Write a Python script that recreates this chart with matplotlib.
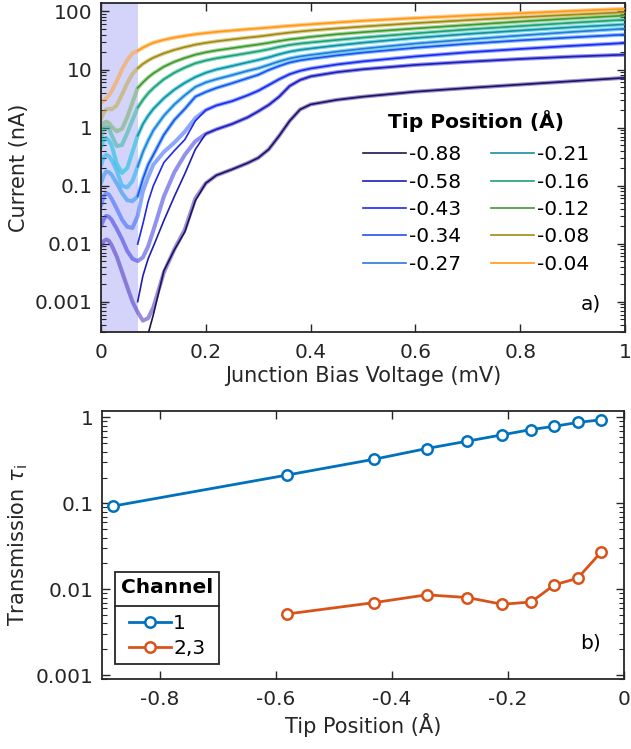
import numpy as np
import matplotlib
matplotlib.use("Agg")
import matplotlib.pyplot as plt
from matplotlib.lines import Line2D
from matplotlib.ticker import LogLocator, NullFormatter, FixedLocator

plt.rcParams['font.family'] = ['DejaVu Sans']
plt.rcParams['axes.unicode_minus'] = False
plt.rcParams['mathtext.fontset'] = 'dejavusans'

# ---------------- data: panel a ----------------
bias_mV = [0, 0.005, 0.01, 0.015, 0.02, 0.03, 0.04, 0.05, 0.06, 0.07, 0.08, 0.09, 0.10,
           0.12, 0.14, 0.16, 0.18, 0.20, 0.22, 0.25, 0.28, 0.30, 0.32, 0.34, 0.36, 0.38,
           0.40, 0.45, 0.50, 0.60, 0.70, 0.80, 0.90, 1.00]

tip_labels = ['-0.88', '-0.58', '-0.43', '-0.34', '-0.27', '-0.21', '-0.16', '-0.12', '-0.08', '-0.04']

I_m088 = [0.0091, 0.011, 0.0118, 0.0112, 0.0095, 0.006, 0.0033, 0.0018, 0.001, 0.00066, 0.00047,
          0.00052, 0.0008, 0.0032, 0.008, 0.0174, 0.06, 0.11, 0.15, 0.19, 0.245, 0.30, 0.42, 0.72,
          1.3, 2.05, 2.5, 3.0, 3.4, 4.15, 4.8, 5.5, 6.3, 7.2]
I_m058 = [0.02, 0.026, 0.03, 0.029, 0.026, 0.018, 0.012, 0.0075, 0.0055, 0.005, 0.0058, 0.009,
          0.017, 0.065, 0.17, 0.34, 0.58, 0.78, 0.93, 1.15, 1.5, 1.9, 2.45, 3.4, 5.2, 6.6, 7.6,
          9.0, 10.1, 12.0, 13.6, 15.2, 16.7, 18.0]
I_m043 = [0.045, 0.065, 0.074, 0.07, 0.06, 0.04, 0.026, 0.0195, 0.0186, 0.03, 0.08, 0.14, 0.23,
          0.38, 0.55, 0.85, 1.45, 2.0, 2.4, 2.85, 3.6, 4.3, 5.4, 6.8, 8.3, 9.5, 10.4, 12.2, 13.8,
          16.8, 19.8, 22.6, 25.6, 28.6]
I_m034 = [0.11, 0.15, 0.175, 0.17, 0.155, 0.11, 0.075, 0.056, 0.054, 0.065, 0.13, 0.23, 0.34,
          0.75, 1.35, 2.1, 3.4, 4.1, 4.8, 5.8, 7.1, 8.1, 9.8, 11.5, 13.2, 14.4, 15.3, 17.5, 19.6,
          23.7, 27.8, 31.8, 35.8, 40.0]
I_m027 = [0.22, 0.31, 0.34, 0.32, 0.28, 0.18, 0.1, 0.093, 0.12, 0.21, 0.38, 0.6, 0.9, 1.6, 2.5,
          3.6, 5.0, 6.0, 6.8, 8.0, 9.5, 10.5, 12.0, 13.8, 15.5, 16.8, 17.8, 20.3, 22.8, 28.0,
          33.0, 38.5, 44.5, 50.5]
I_m021 = [0.45, 0.62, 0.66, 0.6, 0.5, 0.24, 0.165, 0.2, 0.38, 0.72, 1.15, 1.6, 2.1, 3.2, 4.5,
          5.9, 7.4, 8.8, 10.0, 11.5, 13.3, 14.6, 16.2, 18.3, 20.3, 21.8, 23.0, 26.0, 29.0, 35.0,
          41.0, 47.0, 53.5, 60.0]
I_m016 = [0.7, 0.95, 1.04, 0.98, 0.75, 0.48, 0.5, 0.8, 1.35, 2.2, 3.0, 3.9, 4.8, 6.8, 8.8, 10.8,
          12.8, 14.3, 15.6, 17.3, 19.2, 20.6, 22.3, 24.5, 26.5, 28.0, 29.2, 32.3, 35.5, 42.0,
          49.0, 56.0, 64.0, 72.0]
I_m012 = [0.95, 1.2, 1.26, 1.2, 1.05, 0.86, 0.95, 1.5, 2.7, 4.8, 6.0, 7.3, 8.6, 11.2, 13.6, 15.8,
          18.0, 19.8, 21.3, 23.3, 25.5, 27.0, 28.8, 31.0, 33.0, 34.6, 36.5, 40.5, 44.0, 51.0,
          58.5, 67.0, 76.0, 85.0]
I_m008 = [1.4, 1.8, 2.05, 2.1, 2.05, 2.4, 3.7, 5.8, 8.4, 10.5, 12.5, 14.3, 16.0, 19.0, 21.8,
          24.3, 26.8, 28.8, 30.6, 33.0, 35.5, 37.0, 39.0, 41.2, 43.3, 45.2, 47.0, 51.0, 55.0,
          63.0, 71.0, 79.5, 88.0, 97.0]
I_m004 = [2.7, 2.9, 3.2, 3.6, 4.2, 6.3, 10.0, 14.5, 19.0, 21.0, 23.8, 26.5, 29.0, 32.5, 35.5,
          38.0, 40.5, 42.5, 44.5, 47.0, 49.5, 51.0, 52.8, 54.7, 56.5, 58.3, 60.0, 64.5, 69.0,
          77.0, 85.0, 93.0, 102.0, 111.0]

# thin (data) curves start at 0.07 mV; where they differ from the thick curve at low bias:
thin_start_m088 = [np.nan, np.nan, 0.00028, 0.0006, 0.0034, 0.0078, 0.016, 0.055]
thin_start_m058 = [0.001, 0.0028, 0.0055, 0.009, 0.025, 0.065, 0.16, 0.42]
thin_start_m043 = [0.0098, 0.022, 0.053, 0.1, 0.25, 0.4, 0.62, 1.3]

# ---------------- data: panel b ----------------
tip_pos = [-0.88, -0.58, -0.43, -0.34, -0.27, -0.21, -0.16, -0.12, -0.08, -0.04]
tau_ch1 = [0.093, 0.214, 0.327, 0.435, 0.53, 0.628, 0.724, 0.79, 0.875, 0.94]
tip_pos_ch23 = [-0.58, -0.43, -0.34, -0.27, -0.21, -0.16, -0.12, -0.08, -0.04]
tau_ch23 = [0.00515, 0.00699, 0.0086, 0.0080, 0.00668, 0.0071, 0.01124, 0.0134, 0.0268]

# ---------------- styling ----------------
thin_colors = ['#1c1552', '#1e1eb4', '#1f28f0', '#2050f0', '#2c78d8',
               '#1f8c9c', '#21a070', '#3a9d2a', '#9e8a10', '#ff9a10']
thick_colors = ['#4a30c0', '#3838e0', '#3060f8', '#2090f0', '#10b0f0',
                '#00c0d8', '#30b8a0', '#70b060', '#c0a840', '#ffa030']
axis_col = '#262626'
FS = 14.5
FSL = 15

fig = plt.figure(figsize=(6.31, 7.49), dpi=100)
ax1 = fig.add_axes([101 / 631, (749 - 332) / 749, 524 / 631, 329 / 749])
ax2 = fig.add_axes([101.7 / 631, (749 - 679) / 749, 522.3 / 631, 268.3 / 749])

# ----- panel a -----
ax1.axvspan(0, 0.07, color='#d4d4fa', lw=0, zorder=0)
thick_all = [I_m088, I_m058, I_m043, I_m034, I_m027, I_m021, I_m016, I_m012, I_m008, I_m004]
thin_starts = {0: thin_start_m088, 1: thin_start_m058, 2: thin_start_m043}
V = np.array(bias_mV)
i07 = bias_mV.index(0.07)
for k, I in enumerate(thick_all):
    ax1.plot(V, I, color=thick_colors[k], alpha=0.55, lw=2.9, solid_capstyle='round',
             solid_joinstyle='round', zorder=2)
for k, I in enumerate(thick_all):
    thin = list(I[i07:])
    if k in thin_starts:
        st = thin_starts[k]
        thin[:len(st)] = st
    ax1.plot(V[i07:], thin, color=thin_colors[k], lw=1.2, zorder=3, label=tip_labels[k],
             solid_joinstyle='round')

ax1.set_yscale('log')
ax1.set_xlim(0, 1)
ax1.set_ylim(3e-4, 140)
ax1.set_xticks([0, 0.2, 0.4, 0.6, 0.8, 1.0])
ax1.set_xticklabels(['0', '0.2', '0.4', '0.6', '0.8', '1'])
ax1.yaxis.set_major_locator(FixedLocator([1e-3, 1e-2, 1e-1, 1, 10, 100]))
ax1.set_yticklabels(['0.001', '0.01', '0.1', '1', '10', '100'])
ax1.yaxis.set_minor_locator(LogLocator(base=10, subs=np.arange(2, 10), numticks=20))
ax1.yaxis.set_minor_formatter(NullFormatter())
ax1.set_xlabel('Junction Bias Voltage (mV)', fontsize=FSL, color=axis_col, labelpad=3)
ax1.set_ylabel('Current (nA)', fontsize=FSL, color=axis_col, labelpad=4)
ax1.text(0.955, 0.085, 'a)', transform=ax1.transAxes, ha='right', va='center',
         fontsize=FS, color='black')

leg1 = ax1.legend(ncol=2, frameon=False, fontsize=FS, loc='upper left',
                  bbox_to_anchor=(0.5, 0.675), borderpad=0, borderaxespad=0,
                  handlelength=2.15, handletextpad=0.15, columnspacing=1.45,
                  labelspacing=0.42,
                  title='Tip Position (Å)', title_fontproperties={'weight': 'bold', 'size': FS})
leg1._legend_box.sep = 9.5

# ----- panel b -----
ax2.plot(tip_pos, tau_ch1, '-o', color='#0072BD', lw=2.0, ms=7.5, mew=1.8,
         mfc='white', label='1', zorder=3)
ax2.plot(tip_pos_ch23, tau_ch23, '-o', color='#D95319', lw=2.0, ms=7.5, mew=1.8,
         mfc='white', label='2,3', zorder=3)
ax2.set_yscale('log')
ax2.set_xlim(-0.9, 0)
ax2.set_ylim(0.0009, 1.2)
ax2.set_xticks([-0.8, -0.6, -0.4, -0.2, 0])
ax2.set_xticklabels(['-0.8', '-0.6', '-0.4', '-0.2', '0'])
ax2.yaxis.set_major_locator(FixedLocator([1e-3, 1e-2, 1e-1, 1]))
ax2.set_yticklabels(['0.001', '0.01', '0.1', '1'])
ax2.yaxis.set_minor_locator(LogLocator(base=10, subs=np.arange(2, 10), numticks=20))
ax2.yaxis.set_minor_formatter(NullFormatter())
ax2.set_xlabel('Tip Position (Å)', fontsize=FSL, color=axis_col, labelpad=3)
ax2.set_ylabel('Transmission $\\tau_{\\mathrm{i}}$', fontsize=FSL, color=axis_col, labelpad=4)
ax2.text(0.955, 0.134, 'b)', transform=ax2.transAxes, ha='right', va='center',
         fontsize=FS, color='black')

leg2 = ax2.legend(loc='lower left', bbox_to_anchor=(0.0255, 0.056), fontsize=FS,
                  frameon=True, fancybox=False, shadow=False, framealpha=1,
                  edgecolor='#262626', borderpad=0.3, borderaxespad=0, handlelength=2.1,
                  handletextpad=0.1, labelspacing=0.3,
                  title='Channel', title_fontproperties={'weight': 'bold', 'size': FS})
leg2.get_frame().set_linewidth(1.3)
leg2._legend_box.sep = 12

for ax in (ax1, ax2):
    ax.tick_params(which='both', direction='in', top=True, right=True,
                   colors=axis_col, labelsize=FS, labelcolor=axis_col)
    ax.tick_params(which='major', length=6, width=1.0)
    ax.tick_params(which='minor', length=3.5, width=0.8)
    ax.tick_params(axis='x', which='major', pad=8)
    ax.tick_params(axis='y', which='major', pad=6)
    for s in ax.spines.values():
        s.set_linewidth(1.3)
        s.set_color(axis_col)

# separator line under the legend title (MATLAB-style legend)
fig.canvas.draw()
r = fig.canvas.get_renderer()
lb = leg2.get_window_extent(r)
tb = leg2.get_title().get_window_extent(r)
hb = leg2._legend_handle_box.get_window_extent(r)
inv = fig.transFigure.inverted()
ysep = 0.5 * (tb.y0 + hb.y1)
(x0, y0) = inv.transform((lb.x0, ysep))
(x1, _) = inv.transform((lb.x1, ysep))
fig.add_artist(Line2D([x0, x1], [y0, y0], transform=fig.transFigure,
                      color='#262626', lw=1.3, zorder=10))

fig.savefig('out.png', dpi=100)
